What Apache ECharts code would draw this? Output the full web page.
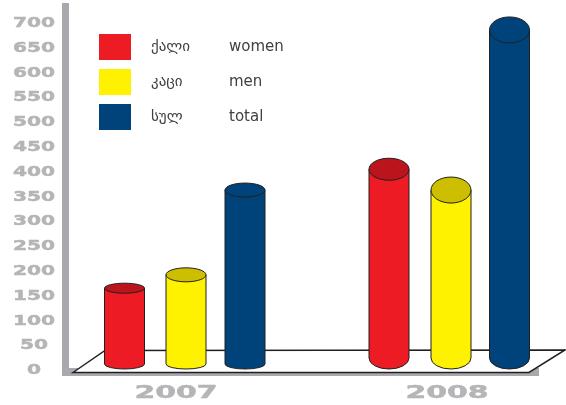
<!DOCTYPE html>
<html>
<head>
<meta charset="utf-8">
<style>
  html, body { margin: 0; padding: 0; background: #fff; }
  #chart { width: 566px; height: 405px; }
</style>
<script src="https://cdn.jsdelivr.net/npm/echarts@6/dist/echarts.min.js"></script>
</head>
<body>
<div id="chart"></div>
<script>
// data
const years = ['2007', '2008']
const yTicks = [0, 50, 100, 150, 200, 250, 300, 350, 400, 450, 500, 550, 600, 650, 700]
const namesKa = ['ქალი', 'კაცი', 'სულ']
const namesEn = ['women', 'men', 'total']
const women = [163, 403]
const men = [190, 361]
const total = [361, 684]

// look of each cylinder: colours, shift from the year centre, ellipse height
const looks = [
  { body: '#ED1C24', top: '#BC141C', shift: [-51.5, -58], ry: [5, 11] },
  { body: '#FFF200', top: '#CDBE00', shift: [10, 4], ry: [7, 13] },
  { body: '#00437A', top: '#00437A', shift: [69, 62.5], ry: [7, 13] }
]
const baseRy = [5, 11]
const halfWidth = 20
const grey = '#B4B5B7'
const greyBar = '#A7A9AC'
const edge = '#231F20'

// one cylinder, from the floor up to the value
const drawCylinder = look => (params, api) => {
  const cat = api.value(0)
  const [cx, topY] = api.coord([cat, api.value(1)])
  const floorY = api.coord([cat, 0])[1]
  const x = cx + look.shift[cat]
  const baseY = floorY - baseRy[cat]
  const rb = baseRy[cat]
  const l = x - halfWidth
  const r = x + halfWidth
  const body = `M${l} ${topY}L${l} ${baseY}A${halfWidth} ${rb} 0 0 0 ${r} ${baseY}L${r} ${topY}Z`
  return {
    type: 'group',
    children: [
      {
        type: 'path',
        shape: { pathData: body },
        style: { fill: look.body, stroke: edge, lineWidth: 1 }
      },
      {
        type: 'ellipse',
        shape: { cx: x, cy: topY, rx: halfWidth, ry: look.ry[cat] },
        style: { fill: look.top, stroke: edge, lineWidth: 1 }
      }
    ]
  }
}

const cylinderSeries = (i, values) => ({
  name: namesEn[i],
  type: 'custom',
  itemStyle: { color: looks[i].body },
  clip: false,
  silent: true,
  encode: { x: 0, y: 1 },
  data: values.map((v, c) => [c, v]),
  renderItem: drawCylinder(looks[i])
})

// wide grey numbers of the y axis
const tickLabelSeries = {
  name: 'ticks',
  type: 'custom',
  clip: false,
  silent: true,
  encode: { y: 0 },
  data: yTicks.map(v => [v]),
  renderItem (params, api) {
    const v = api.value(0)
    return {
      type: 'text',
      x: 34,
      y: api.coord([0, v])[1] + 1.5,
      scaleX: 1.44,
      style: {
        text: String(v),
        align: 'center',
        verticalAlign: 'middle',
        fontFamily: 'DejaVu Sans',
        fontWeight: 'bold',
        fontSize: 14,
        fill: grey,
        stroke: grey,
        lineWidth: 0.5
      }
    }
  }
}

// wide grey years under the floor
const yearLabelSeries = {
  name: 'years',
  type: 'custom',
  clip: false,
  silent: true,
  encode: { x: 0 },
  data: years.map((y, c) => [c]),
  renderItem (params, api) {
    const c = api.value(0)
    return {
      type: 'text',
      x: api.coord([c, 0])[0],
      y: 393,
      scaleX: 1.66,
      style: {
        text: years[c],
        align: 'center',
        verticalAlign: 'middle',
        fontFamily: 'DejaVu Sans',
        fontWeight: 'bold',
        fontSize: 18,
        fill: grey,
        stroke: grey,
        lineWidth: 0.5
      }
    }
  }
}

const chart = echarts.init(document.getElementById('chart'), null, { renderer: 'canvas' })

chart.setOption({
  animation: false,
  backgroundColor: '#fff',
  grid: { left: 176, width: 271, top: 22, bottom: 36 },
  xAxis: { type: 'category', data: years, boundaryGap: false, show: false },
  yAxis: { type: 'value', min: 0, max: 700, interval: 50, show: false },
  legend: {
    data: namesEn,
    left: 99,
    top: 34,
    padding: 0,
    orient: 'vertical',
    icon: 'rect',
    itemWidth: 32,
    itemHeight: 26,
    itemGap: 9,
    selectedMode: false,
    formatter: name => `{ka|${namesKa[namesEn.indexOf(name)]}}{en|${name}}`,
    textStyle: {
      rich: {
        ka: { width: 78, padding: [0, 0, 0, 15], fontFamily: 'DejaVu Sans', fontSize: 15, color: '#414042' },
        en: { fontFamily: 'DejaVu Sans', fontSize: 15, color: '#414042' }
      }
    }
  },
  // grey L frame and the white floor behind the cylinders
  graphic: [
    { type: 'rect', z: 0, shape: { x: 62, y: 3, width: 7, height: 373 }, style: { fill: greyBar } },
    { type: 'rect', z: 0, shape: { x: 62, y: 368, width: 477, height: 8 }, style: { fill: greyBar } },
    {
      type: 'polygon',
      z: 1,
      shape: { points: [[73, 372.5], [105, 350.5], [565, 350], [529, 372.5]] },
      style: { fill: '#fff', stroke: edge, lineWidth: 1.5 }
    }
  ],
  series: [
    cylinderSeries(0, women),
    cylinderSeries(1, men),
    cylinderSeries(2, total),
    tickLabelSeries,
    yearLabelSeries
  ]
})
</script>
</body>
</html>
